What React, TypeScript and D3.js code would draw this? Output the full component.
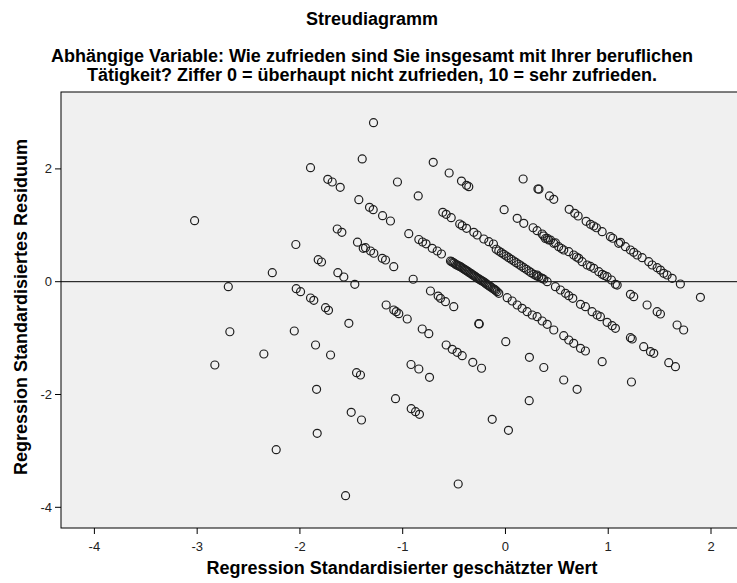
import React from 'react';
import * as d3 from 'd3';

// Regression Standardisierter geschätzter Wert
const predicted = [
  -1.897, -1.394, -1.729, -1.686, -1.608, -1.427, -3.025, -1.637, -1.592, -2.040, -1.440, -1.284,
  -0.703, -0.548, -0.428, -0.379, -0.357, -1.051, -0.849, -1.323, -1.287, -1.196, -1.119, -0.941,
  -0.843, -0.807, -0.773, 0.172, 0.316, 0.326, 0.428, 0.470, -0.013, 0.114, 0.178, 0.269, 0.308,
  0.373, -0.610, -0.577, -0.528, -0.445, -0.421, -0.379, -0.308, -0.275, -0.211, -0.162, -0.117,
  0.620, 0.674, 0.707, 0.785, 0.827, 0.859, 0.885, 0.941, 1.021, 1.044, 1.119, 0.357, 0.406,
  0.438, 0.486, -1.384, -1.822, -1.790, -2.269, -1.631, -1.573, -1.466, -2.697, -2.036, -1.994,
  -1.897, -1.865, -1.751, -1.722, -1.524, -2.682, -2.055, -1.848, -2.351, -1.702, -2.828,
  -0.713, -0.664, -0.623,
  -0.535, -0.511, -0.486, -0.462, -0.438, -0.413, -0.389, -0.365, -0.340, -0.316, -0.292, -0.268,
  -0.243, -0.219, -0.195, -0.170, -0.146, -0.114, -0.081, -0.065,
  -0.500, -0.450, -0.400, -0.355, -0.305, -0.255, -0.205, -0.130, -0.095,
  -0.523, -0.474, -0.425, -0.377, -0.328, -0.280, -0.231, -0.182, -0.158, -0.105,
  -1.362, -1.313, -1.281, -1.199, -1.167, -1.087, -0.898, -0.730, -0.655, -0.632, -0.584, -0.503,
  -1.161, -1.087, -1.063, -1.038, -0.956, -0.260, -0.255, -0.810, -0.746, -0.577, -0.518, -0.470,
  -0.421, 0.003, 0.233, -0.318, -0.233, -0.919, -0.843, 0.373,
  -0.065, -0.017, 0.032, 0.081, 0.129, 0.178, 0.227, 0.275, 0.324, 0.373,
  -0.090, -0.040, 0.008, 0.056, 0.105, 0.153, 0.202, 0.250, 0.300, 0.348,
  0.421, 0.470, 0.518, 0.567, 0.616, 0.664, 0.713, 0.746, 0.795, 0.859, 0.908, 0.941, 0.989,
  1.031, 1.070, 1.087, 0.389, 0.545, 0.691, 0.827, 0.963,
  1.102, 1.167, 1.216, 1.248, 1.281, 1.330, 1.394, 1.427, 1.476, 1.508, 1.540, 1.573, 1.622,
  1.702, 1.897,
  0.308, 0.357, 0.406, 0.486, 0.535, 0.584, 0.616, 0.655, 0.730, 0.778, 0.843, 0.892, 0.924,
  0.989, 1.038, 1.070, 1.216, 1.233, 1.345, 1.411, 1.443, 1.589, 1.654,
  1.216, 1.248, 1.378, 1.476, 1.508, 1.670, 1.734,
  0.308, 0.357, 0.406, 0.470, 0.567, 0.616, 0.664, 0.730, 0.778, 0.941, 1.226,
  0.017, 0.065, 0.114, 0.162, 0.211, 0.260,
  0.567, 0.697,
  -1.449, -1.411, -1.838, -1.501, -1.401, -1.832, -2.231, -1.556, -0.739, -1.070, -0.917, -0.875,
  -0.837, -0.129, 0.029, 0.231, -0.460,
];

// Regression Standardisiertes Residuum
const residual = [
  2.021, 2.176, 1.816, 1.768, 1.674, 1.454, 1.082, 0.934, 0.876, 0.660, 0.700, 2.819,
  2.117, 1.927, 1.785, 1.709, 1.684, 1.768, 1.520, 1.319, 1.277, 1.170, 1.076, 0.851,
  0.748, 0.704, 0.672, 1.821, 1.644, 1.640, 1.520, 1.461, 1.277, 1.124, 1.035, 0.957, 0.904,
  0.810, 1.230, 1.195, 1.135, 1.023, 0.993, 0.947, 0.876, 0.828, 0.757, 0.709, 0.668,
  1.284, 1.213, 1.165, 1.071, 1.018, 0.988, 0.957, 0.887, 0.798, 0.770, 0.699, 0.846, 0.770,
  0.739, 0.691, 0.592, 0.390, 0.349, 0.160, 0.160, 0.083, -0.046, -0.089, -0.124, -0.177,
  -0.289, -0.330, -0.461, -0.507, -0.738, -0.887, -0.874, -1.122, -1.282, -1.300, -1.477,
  0.592, 0.544, 0.491,
  0.367, 0.340, 0.309, 0.287, 0.266, 0.234, 0.207, 0.181, 0.149, 0.119, 0.089, 0.057,
  0.030, 0.004, -0.028, -0.059, -0.089, -0.129, -0.177, -0.206,
  0.330, 0.275, 0.220, 0.165, 0.105, 0.045, -0.010, -0.110, -0.155,
  0.355, 0.298, 0.250, 0.194, 0.134, 0.073, 0.017, -0.044, -0.074, -0.140,
  0.603, 0.544, 0.504, 0.415, 0.385, 0.266, 0.043, -0.165, -0.254, -0.294, -0.355, -0.443,
  -0.413, -0.502, -0.532, -0.567, -0.661, -0.745, -0.748, -0.839, -0.922, -1.122, -1.199, -1.252,
  -1.312, -1.064, -1.340, -1.429, -1.535, -1.468, -1.548, -1.521,
  0.544, 0.486, 0.426, 0.367, 0.309, 0.248, 0.190, 0.131, 0.089, 0.043,
  0.575, 0.515, 0.456, 0.397, 0.338, 0.279, 0.220, 0.160, 0.105, 0.066,
  0.739, 0.681, 0.621, 0.562, 0.532, 0.473, 0.415, 0.355, 0.296, 0.238, 0.177, 0.131, 0.089,
  0.030, -0.046, -0.059, 0.766, 0.589, 0.438, 0.270, 0.110,
  0.681, 0.621, 0.562, 0.521, 0.473, 0.426, 0.355, 0.296, 0.248, 0.207, 0.149, 0.119, 0.060,
  -0.041, -0.277,
  0.119, 0.060, 0.000, -0.089, -0.147, -0.206, -0.248, -0.294, -0.401, -0.443, -0.532, -0.590, -0.621,
  -0.720, -0.780, -0.826, -0.993, -1.016, -1.152, -1.241, -1.270, -1.436, -1.507,
  -0.223, -0.266, -0.413, -0.532, -0.573, -0.768, -0.856,
  -0.621, -0.697, -0.755, -0.856, -0.957, -1.034, -1.092, -1.181, -1.229, -1.418, -1.778,
  -0.284, -0.342, -0.413, -0.472, -0.532, -0.590,
  -1.743, -1.908,
  -1.613, -1.654, -1.908, -2.316, -2.452, -2.688, -2.979, -3.794, -1.695, -2.074, -2.252, -2.305,
  -2.351, -2.440, -2.635, -2.110, -3.587,
];

const xTicks = [-4, -3, -2, -1, 0, 1, 2];
const yTicks = [-4, -2, 0, 2];

const title = 'Streudiagramm';
const subtitle1 = 'Abhängige Variable: Wie zufrieden sind Sie insgesamt mit Ihrer beruflichen';
const subtitle2 = 'Tätigkeit? Ziffer 0 = überhaupt nicht zufrieden, 10 = sehr zufrieden.';
const xLabel = 'Regression Standardisierter geschätzter Wert';
const yLabel = 'Regression Standardisiertes Residuum';

const W = 737, H = 583;
const left = 61, top = 92, right = 745, bottom = 528;
const font = '"Liberation Sans", Arial, sans-serif';

const App = () => {
  const x = d3.scaleLinear().domain([-4, 2]).range([94.4, 711]);
  const y = d3.scaleLinear().domain([0, 2]).range([281.7, 168.9]);

  const points = predicted.map((p, i) => (
    <circle key={i} cx={x(p)} cy={y(residual[i])} r={4}
      fill="none" stroke="#1e1e1e" strokeWidth={1.2} />
  ));

  return (
    <svg width={W} height={H} style={{ position: 'absolute', left: 0, top: 0, background: '#fff' }}>
      <text x={372} y={25} textAnchor="middle" fontFamily={font} fontWeight="bold" fontSize={18}>{title}</text>
      <text x={372} y={62} textAnchor="middle" fontFamily={font} fontWeight="bold" fontSize={18}>{subtitle1}</text>
      <text x={372} y={81} textAnchor="middle" fontFamily={font} fontWeight="bold" fontSize={18}>{subtitle2}</text>

      <rect x={left} y={top} width={right - left} height={bottom - top} fill="#f0f0f0" stroke="#000" strokeWidth={1} />
      <line x1={left} x2={right} y1={y(0)} y2={y(0)} stroke="#000" strokeWidth={1} />

      {points}

      {xTicks.map(t => (
        <g key={t}>
          <line x1={x(t)} x2={x(t)} y1={bottom} y2={bottom + 6} stroke="#000" />
          <text x={x(t)} y={551} textAnchor="middle" fontFamily={font} fontSize={13} fill="#222">{t}</text>
        </g>
      ))}
      {yTicks.map(t => (
        <g key={t}>
          <line x1={left - 6} x2={left} y1={y(t)} y2={y(t)} stroke="#000" />
          <text x={52} y={y(t) + 4.5} textAnchor="end" fontFamily={font} fontSize={13} fill="#222">{t}</text>
        </g>
      ))}

      <text x={402} y={574} textAnchor="middle" fontFamily={font} fontWeight="bold" fontSize={18}>{xLabel}</text>
      <text transform="translate(27,307) rotate(-90)" textAnchor="middle" fontFamily={font} fontWeight="bold" fontSize={18}>{yLabel}</text>
    </svg>
  );
};

export default App;
